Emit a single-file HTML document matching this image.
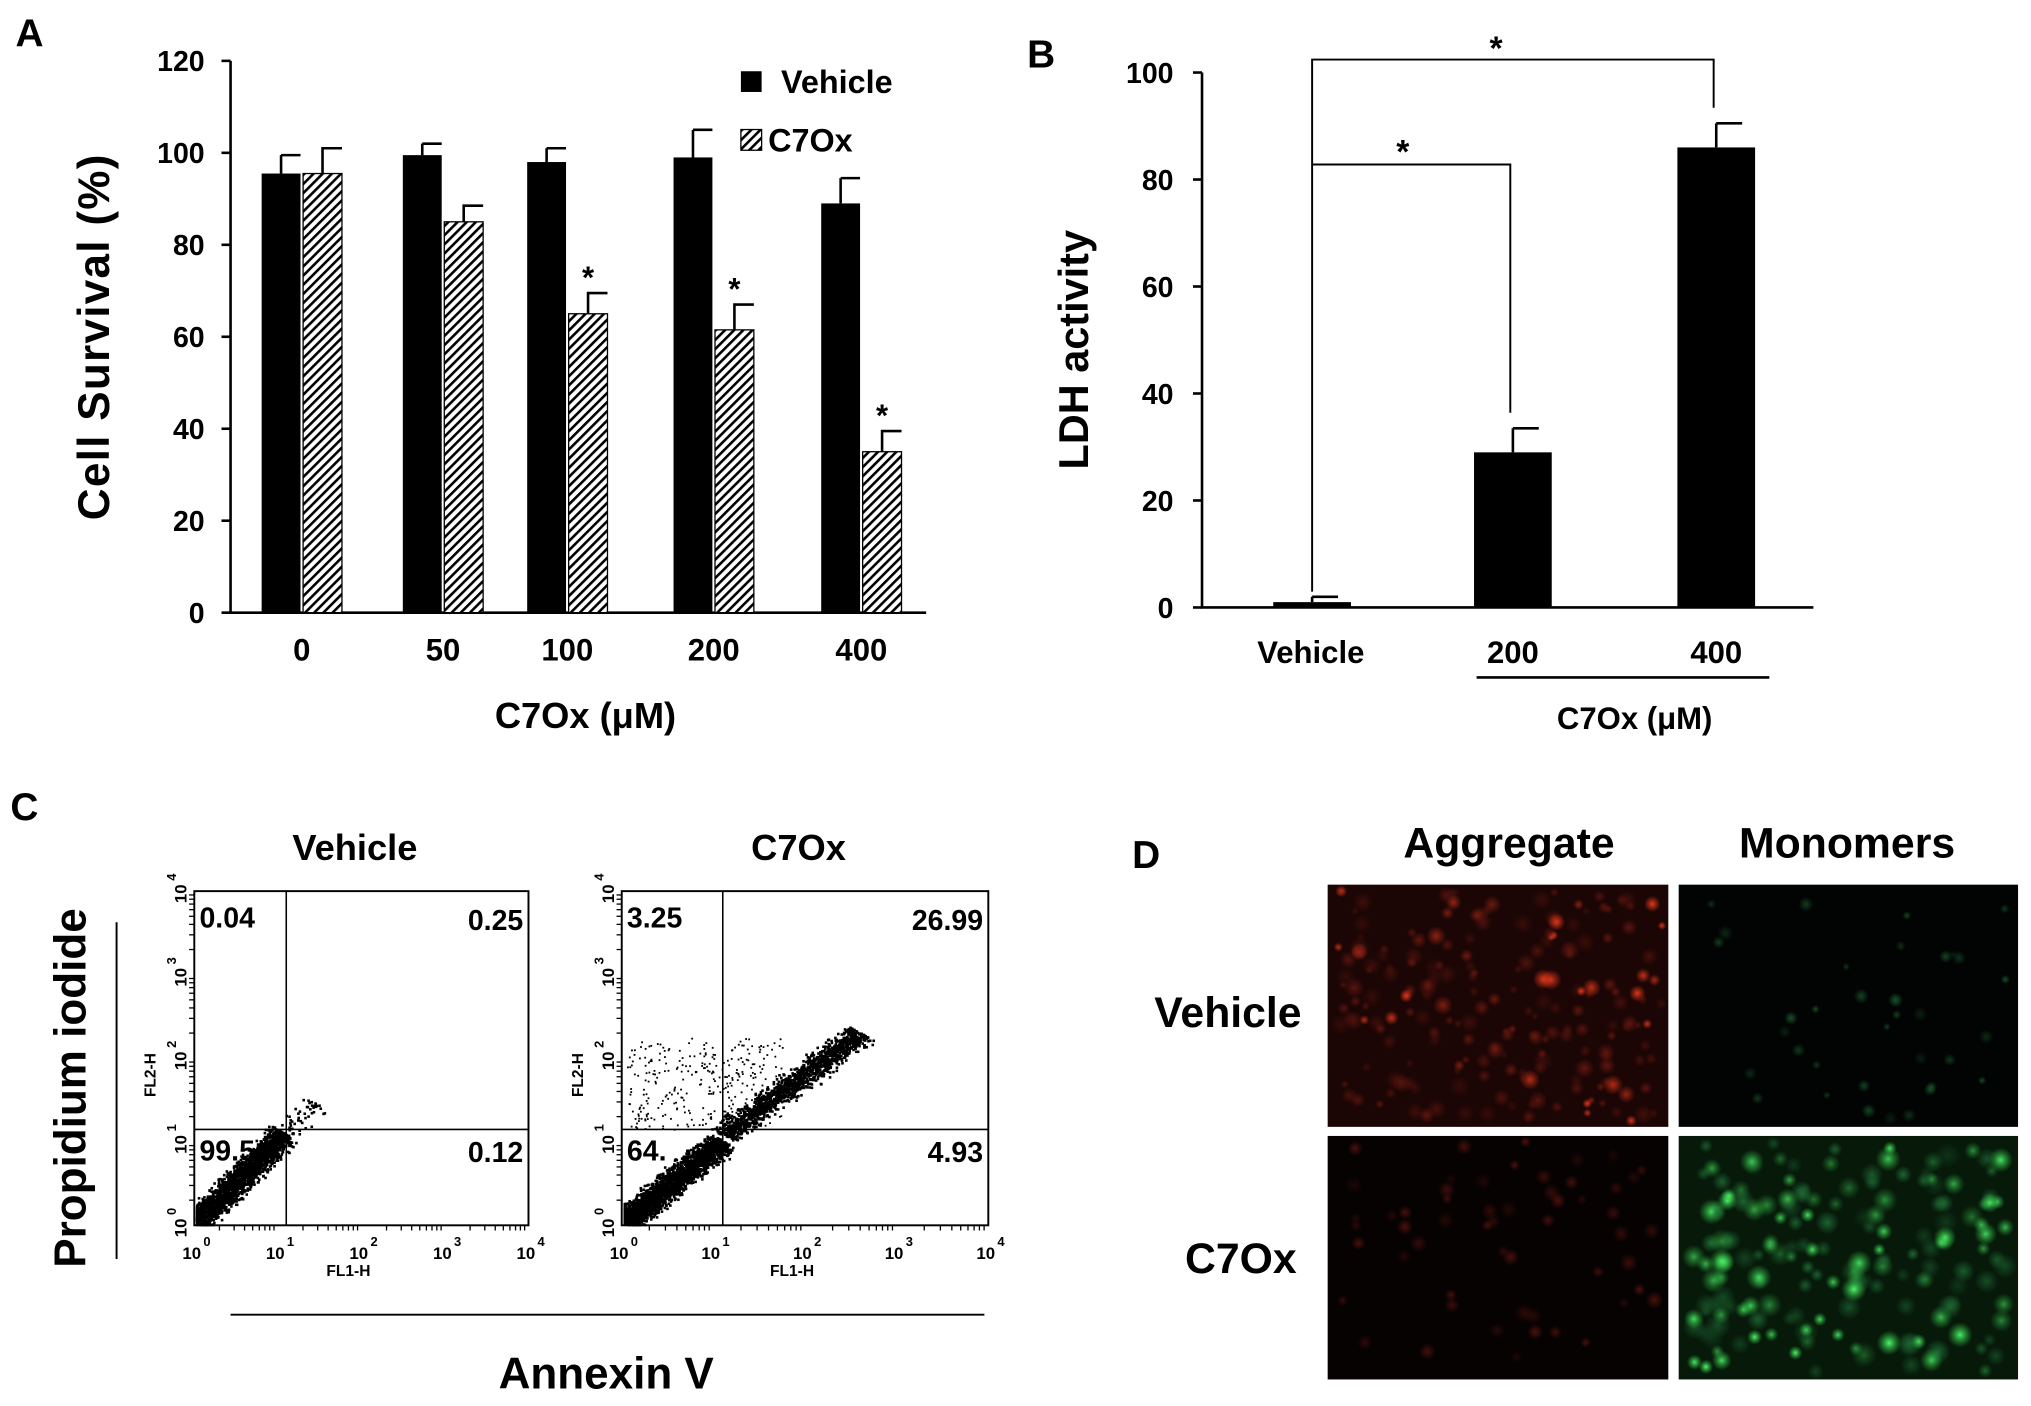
<!DOCTYPE html>
<html><head><meta charset="utf-8"><style>
html,body{margin:0;padding:0;background:#fff;}
svg{display:block;font-family:"Liberation Sans",sans-serif;}
text{font-weight:bold;}
</style></head><body>
<svg id="fig" width="2031" height="1406" viewBox="0 0 1568 1085.5" preserveAspectRatio="none" xmlns="http://www.w3.org/2000/svg">
<defs>
<pattern id="hatch" width="5" height="5" patternUnits="userSpaceOnUse" patternTransform="rotate(45)">
<rect width="5" height="5" fill="#fff"/><rect width="2" height="5" fill="#000"/></pattern>
<radialGradient id="gr"><stop offset="0" stop-color="#ff4020"/><stop offset="1" stop-color="#ff3a1a" stop-opacity="0"/></radialGradient>
<radialGradient id="gg"><stop offset="0" stop-color="#50ff70"/><stop offset="1" stop-color="#30c040" stop-opacity="0"/></radialGradient>
<radialGradient id="gd"><stop offset="0" stop-color="#6a1810"/><stop offset="1" stop-color="#6a1810" stop-opacity="0"/></radialGradient>
<radialGradient id="gdg"><stop offset="0" stop-color="#1e6a34"/><stop offset="1" stop-color="#1e6a34" stop-opacity="0"/></radialGradient>
</defs>
<text x="12" y="36" font-size="30">A</text>
<text x="793" y="52" font-size="30">B</text>
<text x="8" y="633" font-size="30">C</text>
<text x="874" y="670" font-size="30">D</text>
<g id="chartA"></g>
<g id="chartB"></g>
<g id="panelC"></g>
<g id="panelD"></g>
</svg>
<script>
const NS="http://www.w3.org/2000/svg";
// Panel A data
const catsA=["0","50","100","200","400"];
const vehA=[95.5,99.5,98,99,89];
const vehErrA=[4,2.5,3,6,5.5];
const c7A=[95.5,85,65,61.5,35];
const c7ErrA=[5.5,3.5,4.5,5.5,4.5];
const sigA=[false,false,true,true,true];
const ticksA=[0,20,40,60,80,100,120];
// Panel B data
const catsB=["Vehicle","200","400"];
const valsB=[1,29,86];
const errB=[1,4.5,4.5];
const ticksB=[0,20,40,60,80,100];
// Panel C data
const quadVeh=["0.04","0.25","99.5","0.12"];
const quadC7=["3.25","26.99","64.","4.93"];

function el(p,tag,attrs,txt){const e=document.createElementNS(NS,tag);for(const k in attrs)e.setAttribute(k,attrs[k]);if(txt!==undefined)e.textContent=txt;p.appendChild(e);return e;}

// ---- Panel A
(function(){
const g=document.getElementById('chartA');
const x0=178,x1=715,yb=473,yt=47,max=120;
const y=v=>yb-(v/max)*(yb-yt);
const centers=[233,342,438,551,665];
const cx=i=>centers[i];
const bw=30;
let ax=el(g,'path',{d:`M${x0} ${yt}V${yb}H${x1}`,stroke:'#000','stroke-width':2,fill:'none'});

ticksA.forEach(t=>{
 let l=el(g,'line',{x1:x0-7,x2:x0,y1:y(t),y2:y(t),stroke:'#000','stroke-width':2});
 
 let tx=el(g,'text',{x:x0-20,y:y(t)+8,'font-size':22,'text-anchor':'end'},t);
 
});
catsA.forEach((c,i)=>{
 let b1=el(g,'rect',{x:cx(i)-bw-1,y:y(vehA[i]),width:bw,height:yb-y(vehA[i]),fill:'#000'});
 
 let e1=el(g,'path',{d:`M${cx(i)-bw/2-1} ${y(vehA[i])}V${y(vehA[i]+vehErrA[i])}M${cx(i)-bw/2-1} ${y(vehA[i]+vehErrA[i])}H${cx(i)-1}`,stroke:'#000','stroke-width':2,fill:'none'});
 
 let b2=el(g,'rect',{x:cx(i)+1,y:y(c7A[i]),width:bw,height:yb-y(c7A[i]),fill:'url(#hatch)',stroke:'#000','stroke-width':1});
 
 let e2=el(g,'path',{d:`M${cx(i)+1+bw/2} ${y(c7A[i])}V${y(c7A[i]+c7ErrA[i])}H${cx(i)+bw+1}`,stroke:'#000','stroke-width':2,fill:'none'});
 
 if(sigA[i]){let s=el(g,'text',{x:cx(i)+bw/2+1,y:y(c7A[i]+c7ErrA[i])-4,'font-size':24,'text-anchor':'middle'},'*');
 }
 let xl=el(g,'text',{x:cx(i),y:510,'font-size':24,'text-anchor':'middle'},c);
 
});
let yt2=el(g,'text',{x:0,y:0,'font-size':34,'text-anchor':'middle',transform:'translate(84 260) rotate(-90)','letter-spacing':'1'},'Cell  Survival  (%)');

let xt=el(g,'text',{x:452,y:562,'font-size':28,'text-anchor':'middle'},'C7Ox (μM)');

let lg=el(g,'rect',{x:572,y:55,width:16,height:16,fill:'#000'});

let lt=el(g,'text',{x:603,y:72,'font-size':25},'Vehicle');

let lg2=el(g,'rect',{x:572,y:100,width:16,height:16,fill:'url(#hatch)',stroke:'#000'});

let lt2=el(g,'text',{x:593,y:117,'font-size':25},'C7Ox');

})();

// ---- Panel B
(function(){
const g=document.getElementById('chartB');
const x0=928,x1=1400,yb=469,yt=56,max=100;
const y=v=>yb-(v/max)*(yb-yt);
const centers=[1013,1168,1325];
const bw=60;
let ax=el(g,'path',{d:`M${x0} ${yt}V${yb}H${x1}`,stroke:'#000','stroke-width':2,fill:'none'});

ticksB.forEach(t=>{
 let l=el(g,'line',{x1:x0-7,x2:x0,y1:y(t),y2:y(t),stroke:'#000','stroke-width':2});
 
 let tx=el(g,'text',{x:x0-22,y:y(t)+8,'font-size':22,'text-anchor':'end'},t);
 
});
catsB.forEach((c,i)=>{
 let b=el(g,'rect',{x:centers[i]-bw/2,y:y(valsB[i]),width:bw,height:yb-y(valsB[i]),fill:'#000'});
 
 let e=el(g,'path',{d:`M${centers[i]} ${y(valsB[i])}V${y(valsB[i]+errB[i])}M${centers[i]} ${y(valsB[i]+errB[i])}H${centers[i]+bw/2-10}`,stroke:'#000','stroke-width':2,fill:'none'});
 
 let xl=el(g,'text',{x:centers[i]-(i===0?1:0),y:512,'font-size':24,'text-anchor':'middle'},c);
 
});
let br1=el(g,'path',{d:`M${centers[0]} ${y(valsB[0]+errB[0])-4}V46H${centers[2]-2}V${y(valsB[2]+errB[2])-12}`,stroke:'#000','stroke-width':1.5,fill:'none'});

let br2=el(g,'path',{d:`M${centers[0]} 127H${centers[1]-2}V${y(valsB[1]+errB[1])-12}`,stroke:'#000','stroke-width':1.5,fill:'none'});

let s1=el(g,'text',{x:1155,y:46,'font-size':26,'text-anchor':'middle'},'*');

let s2=el(g,'text',{x:1083,y:126,'font-size':26,'text-anchor':'middle'},'*');

let ul=el(g,'line',{x1:1140,x2:1366,y1:523,y2:523,stroke:'#000','stroke-width':2});

let xt=el(g,'text',{x:1262,y:563,'font-size':24,'text-anchor':'middle'},'C7Ox (μM)');

let ytt=el(g,'text',{x:0,y:0,'font-size':32,'text-anchor':'middle',transform:'translate(840 270) rotate(-90)'},'LDH activity');

})();

// pseudo-random (decorative texture only)
let seed=7;function rnd(){seed=(seed*16807)%2147483647;return seed/2147483647;}

// ---- Panel C
(function(){
const g=document.getElementById('panelC');
function plot(bx,w,title,q,heavy){
 const top=688,bot=946,bx1=bx+w;
 const lx=v=>bx+(v)*(w/4);
 const ly=v=>bot-(v)*((bot-top)/4);
 const pg=el(g,'g',{});
 
 let t=el(pg,'text',{x:bx+w/2-5,y:664,'font-size':28,'text-anchor':'middle'},title);
 
 const n=heavy?3600:2200;
 for(let i=0;i<n;i++){
  let a=rnd(),s=(rnd()+rnd()+rnd()-1.5)*0.13;
  let L=heavy?(a<0.6?a*1.8:1.08+(a-0.6)*3.8):a*1.08;
  if(!heavy&&i>2150)L=1.1+rnd()*0.35;
  let xv=Math.max(0.02,L+s),yv=Math.max(0.02,L*(heavy?0.9:1.0)-s*0.6+0.03);
  if(heavy&&L>1.1)yv=L*0.82+0.18-s*0.6;
  el(pg,'rect',{x:lx(xv),y:ly(yv),width:2,height:2,fill:'#000'});
 }
 if(heavy){for(let i=0;i<320;i++){let xv=0.05+rnd()*1.7,yv=1.15+rnd()*1.1;el(pg,'rect',{x:lx(xv),y:ly(yv),width:1.4,height:1.4,fill:'#000'});}}
 let box=el(pg,'rect',{x:bx,y:top,width:w,height:bot-top,fill:'none',stroke:'#000','stroke-width':1.5});
 
 const qx=heavy?bx+78:bx+71;
 let q1=el(pg,'path',{d:`M${qx} ${top}V${bot}M${bx} 872H${bx1}`,stroke:'#000','stroke-width':1.2,fill:'none'});
 
 const ql=[[bx+4,716,'start'],[bx1-4,718,'end'],[bx+4,896,'start'],[bx1-4,897,'end']];
 q.forEach((v,i)=>{let tt=el(pg,'text',{x:ql[i][0],y:ql[i][1],'font-size':22,'text-anchor':ql[i][2]},v);
 });
 for(let d=0;d<=4;d++){
  let a=el(pg,'text',{x:lx(d)-2,y:972,'font-size':13,'font-weight':'normal','text-anchor':'middle'},'10');
  
  el(pg,'text',{x:lx(d)+7,y:962,'font-size':10,'font-weight':'normal'},String(d));
  let b=el(pg,'text',{x:0,y:0,'font-size':13,'font-weight':'normal','text-anchor':'middle',transform:`translate(${bx-6} ${ly(d)+2}) rotate(-90)`},'10');
  
  el(pg,'text',{x:0,y:0,'font-size':10,'font-weight':'normal',transform:`translate(${bx-14} ${ly(d)-8}) rotate(-90)`},String(d));
  if(d<4)for(let m=2;m<10;m++){let o=Math.log10(m);
   el(pg,'line',{x1:lx(d+o),x2:lx(d+o),y1:bot,y2:bot+4,stroke:'#000'});
   el(pg,'line',{x1:bx-4,x2:bx,y1:ly(d+o),y2:ly(d+o),stroke:'#000'});}
 }
 let xl=el(pg,'text',{x:bx+w/2-10,y:985,'font-size':12,'font-weight':'normal','text-anchor':'middle'},'FL1-H');
 
 let yl=el(pg,'text',{x:0,y:0,'font-size':12,'font-weight':'normal','text-anchor':'middle',transform:`translate(${bx-30} 830) rotate(-90)`},'FL2-H');
 
}
plot(150,258,'Vehicle',quadVeh,false);
plot(480,283,'C7Ox',quadC7,true);
let pt=el(g,'text',{x:0,y:0,'font-size':34,'text-anchor':'middle',transform:'translate(66 840) rotate(-90)'},'Propidium iodide');

let l1=el(g,'line',{x1:90,x2:90,y1:712,y2:972,stroke:'#000','stroke-width':1.5});

let l2=el(g,'line',{x1:178,x2:760,y1:1015,y2:1015,stroke:'#000','stroke-width':1.5});

let at=el(g,'text',{x:468,y:1072,'font-size':34,'text-anchor':'middle'},'Annexin V');

})();

// ---- Panel D
(function(){
const g=document.getElementById('panelD');
function img(x,y,w,h,bg,grad,n,rmin,rmax,name,opmax){
 const ig=el(g,'g',{});
 
 el(ig,'rect',{x:x,y:y,width:w,height:h,fill:bg});
 for(let i=0;i<n;i++){const r=rmin+rnd()*(rmax-rmin);
  el(ig,'circle',{cx:x+r+rnd()*(w-2*r),cy:y+r+rnd()*(h-2*r),r:r,fill:grad[i%grad.length],opacity:(0.3+rnd()*0.7)*opmax});}
}
img(1025,683,263,187,'#1c0605',['url(#gd)','url(#gd)','url(#gd)','url(#gd)','url(#gr)'],200,3,8,'aggregate-vehicle-image',0.9);
img(1296,683,262,187,'#020403',['url(#gdg)'],35,3,6,'monomers-vehicle-image',0.8);
img(1025,877,263,188,'#070202',['url(#gd)'],55,4,7,'aggregate-c7ox-image',0.7);
img(1296,877,262,188,'#071a0a',['url(#gg)','url(#gdg)'],170,5,10,'monomers-c7ox-image',1);
[['Aggregate',1165,662],['Monomers',1426,662]].forEach(a=>{let t=el(g,'text',{x:a[1],y:a[2],'font-size':33,'text-anchor':'middle'},a[0]);
});
[['Vehicle',948,793],['C7Ox',958,983]].forEach(a=>{let t=el(g,'text',{x:a[1],y:a[2],'font-size':33,'text-anchor':'middle'},a[0]);
});
})();
</script>
</body></html>
